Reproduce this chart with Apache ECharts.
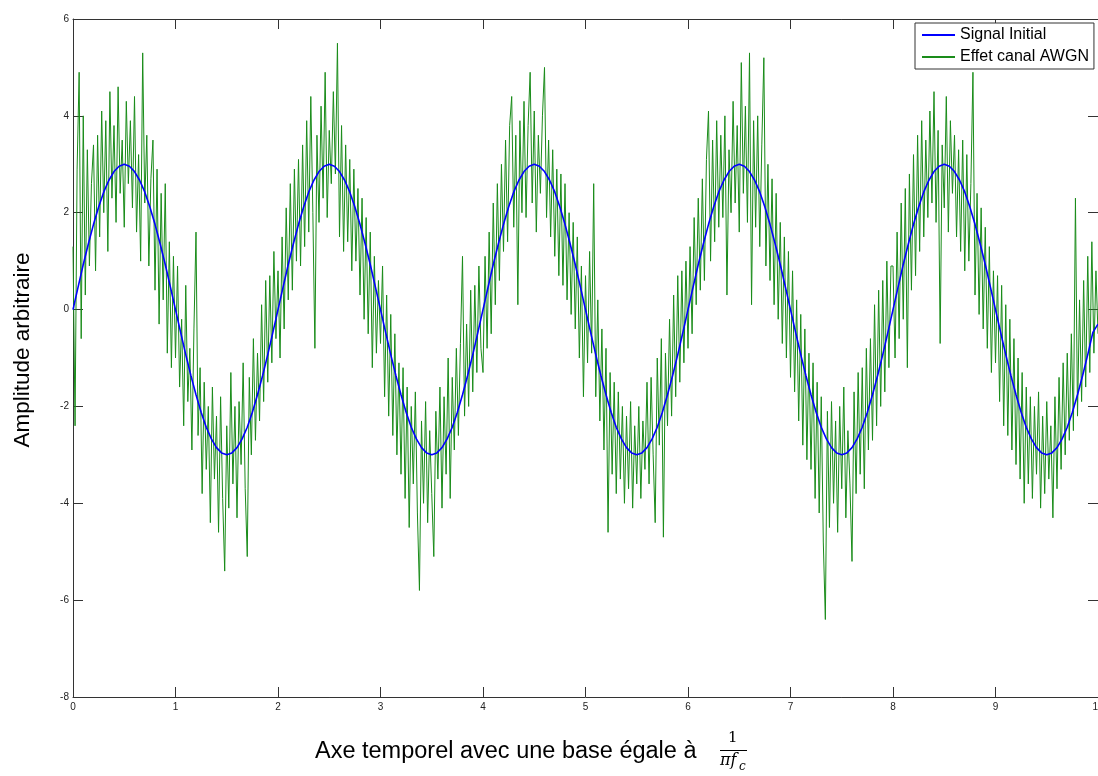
<!DOCTYPE html>
<html>
<head>
<meta charset="utf-8">
<script src="https://cdn.jsdelivr.net/npm/echarts@6/dist/echarts.min.js"></script>
<style>
html,body{margin:0;padding:0;background:#fff;overflow:hidden;}
#chart{width:1098px;height:776px;}
</style>
</head>
<body>
<div id="chart"></div>
<script>
// Sample spacing (time units) of each series
const signalStep = 0.05;
const noisyStep = 0.02;

// Signal Initial (blue), read at t = 0, 0.05, ... 10
const signalInitial = [
 0,0.47,0.93,1.36,1.76,2.12,2.43,2.67,2.85,2.96,3,2.96,2.85,2.67,2.43,2.12,1.76,1.36,0.93,0.47,
 0,-0.47,-0.93,-1.36,-1.76,-2.12,-2.43,-2.67,-2.85,-2.96,-3,-2.96,-2.85,-2.67,-2.43,-2.12,-1.76,-1.36,-0.93,-0.47,
 0,0.47,0.93,1.36,1.76,2.12,2.43,2.67,2.85,2.96,3,2.96,2.85,2.67,2.43,2.12,1.76,1.36,0.93,0.47,
 0,-0.47,-0.93,-1.36,-1.76,-2.12,-2.43,-2.67,-2.85,-2.96,-3,-2.96,-2.85,-2.67,-2.43,-2.12,-1.76,-1.36,-0.93,-0.47,
 0,0.47,0.93,1.36,1.76,2.12,2.43,2.67,2.85,2.96,3,2.96,2.85,2.67,2.43,2.12,1.76,1.36,0.93,0.47,
 0,-0.47,-0.93,-1.36,-1.76,-2.12,-2.43,-2.67,-2.85,-2.96,-3,-2.96,-2.85,-2.67,-2.43,-2.12,-1.76,-1.36,-0.93,-0.47,
 0,0.47,0.93,1.36,1.76,2.12,2.43,2.67,2.85,2.96,3,2.96,2.85,2.67,2.43,2.12,1.76,1.36,0.93,0.47,
 0,-0.47,-0.93,-1.36,-1.76,-2.12,-2.43,-2.67,-2.85,-2.96,-3,-2.96,-2.85,-2.67,-2.43,-2.12,-1.76,-1.36,-0.93,-0.47,
 0,0.47,0.93,1.36,1.76,2.12,2.43,2.67,2.85,2.96,3,2.96,2.85,2.67,2.43,2.12,1.76,1.36,0.93,0.47,
 0,-0.47,-0.93,-1.36,-1.76,-2.12,-2.43,-2.67,-2.85,-2.96,-3,-2.96,-2.85,-2.67,-2.43,-2.12,-1.76,-1.36,-0.93,-0.47,
 -0.3
];

// Effet canal AWGN (green), read at t = 0, 0.02, ... 10
const awgn = [
 1.3,-2.4,2.9,4.9,-0.6,4.0,0.3,3.3,0.9,2.6,3.4,0.8,3.6,1.5,4.1,2.0,3.9,1.2,4.5,2.3,3.8,1.8,4.6,2.4,3.5,1.7,4.3,2.6,3.9,2.1,4.4,1.6,3.2,1.0,5.3,2.2,3.6,0.9,2.7,3.5,0.4,2.9,-0.3,2.4,0.2,2.6,-0.9,1.4,-1.2,1.1,
 -1.0,0.9,-1.6,-0.2,-2.4,0.5,-1.9,-0.8,-2.9,-0.4,1.6,-2.6,-1.2,-3.8,-1.5,-3.3,-2.0,-4.4,-1.6,-3.5,-2.2,-4.6,-1.8,-3.9,-5.4,-2.4,-4.1,-1.3,-3.6,-2.0,-4.3,-1.9,-3.2,-1.1,-3.7,-5.1,-1.4,-3.0,-0.6,-2.7,-0.9,-2.3,0.1,-1.9,0.6,-1.5,0.7,-1.1,1.2,-0.6,
 0.8,-1.0,1.5,-0.4,2.1,0.2,2.6,0.4,2.9,1.0,3.1,0.9,3.4,1.3,3.9,1.6,4.4,2.0,-0.8,3.6,1.8,4.2,2.3,4.9,1.9,3.7,2.6,4.5,2.8,5.5,1.5,3.8,1.2,3.4,1.4,3.1,0.8,2.9,1.0,2.5,0.3,2.3,-0.2,1.9,-0.5,1.6,-1.2,1.1,-0.9,0.6,
 -0.7,0.9,-1.8,0.3,-2.2,-0.1,-2.6,-0.5,-3.0,-1.1,-3.4,-1.2,-3.9,-1.6,-4.5,-2.0,-3.6,-1.7,-4.2,-5.8,-2.3,-4.0,-1.9,-4.4,-2.5,-3.8,-5.1,-2.1,-3.5,-1.6,-4.1,-1.8,-3.4,-1.0,-3.9,-1.4,-2.9,-0.8,-2.6,-0.7,1.1,-2.2,-0.3,-2.0,0.4,-1.7,0.5,-1.3,0.9,-0.8,
 -1.3,1.1,-0.8,1.6,-0.5,2.2,0.1,2.6,0.6,3.0,1.2,3.5,1.4,3.8,4.4,1.7,3.6,0.1,3.9,2.0,4.3,1.9,3.8,4.9,2.2,4.1,1.6,3.6,2.4,4.0,5.0,1.9,3.5,1.5,3.3,1.1,2.9,0.7,2.8,0.5,2.6,0.2,2.0,-0.1,1.8,-0.4,1.5,-1.0,0.9,-1.8,
 0.7,-1.1,1.2,-0.9,2.6,-1.8,0.2,-2.3,-0.4,-2.9,-0.8,-4.6,-1.3,-3.4,-1.5,-3.8,-1.7,-3.5,-2.0,-4.0,-2.2,-3.7,-1.9,-4.1,-2.4,-3.6,-2.0,-3.9,-2.3,-3.3,-1.5,-3.6,-1.4,-3.0,-4.4,-1.0,-2.8,-0.6,-4.7,-0.9,-2.4,-0.2,-2.2,0.3,-1.8,0.7,-1.5,0.8,-1.1,1.0,
 -0.8,1.3,-0.5,1.9,0.1,2.3,0.4,2.7,0.6,3.1,4.1,1.0,3.5,1.4,3.9,1.7,3.6,1.9,4.0,0.3,3.3,2.0,4.3,2.2,3.8,1.6,5.1,2.4,4.2,1.8,5.3,0.1,3.9,1.7,4.0,1.3,3.4,5.2,0.9,3.0,0.6,2.7,0.1,2.4,-0.2,1.8,-0.7,1.5,-1.0,1.2,
 -1.4,0.8,-1.7,0.2,-2.3,-0.1,-2.8,-0.4,-3.1,-0.9,-3.3,-1.1,-3.9,-1.5,-4.2,-1.8,-4.8,-6.4,-2.1,-4.5,-1.9,-4.0,-2.3,-4.6,-2.0,-3.7,-1.6,-4.3,-2.5,-3.6,-5.2,-1.7,-3.8,-1.3,-3.4,-1.2,-3.7,-0.8,-2.9,-0.6,-2.7,0.1,-2.4,0.4,-2.0,0.6,-1.7,1.0,-1.2,0.9,
 0.9,-1.0,1.6,-0.6,2.2,-0.2,2.5,-1.2,2.8,0.4,3.2,0.7,3.6,1.2,3.9,1.5,3.5,1.9,4.1,2.2,4.5,1.8,3.7,-0.7,3.4,2.1,4.4,1.6,3.9,2.4,3.6,1.5,3.3,1.2,3.5,0.8,3.2,1.0,2.6,4.9,0.3,2.4,-0.1,2.1,-0.4,1.7,-0.8,1.3,-1.3,0.8,
 -1.1,0.7,-1.9,0.5,-2.4,0.1,-2.6,-0.2,-2.9,-0.6,-3.2,-1.0,-3.5,-1.3,-4.0,-1.6,-3.6,-1.8,-3.9,-2.0,-3.4,-1.7,-4.1,-2.2,-3.8,-1.9,-3.5,-2.4,-4.3,-1.8,-3.7,-1.4,-3.3,-1.1,-3.0,-0.9,-2.7,-0.5,-2.5,2.3,-2.2,0.2,-1.9,0.6,-1.6,1.1,-1.3,1.4,-0.9,0.8,
 -0.5
];

// Axis ticks
const xMin = 0, xMax = 10, xInterval = 1;
const yMin = -8, yMax = 6, yInterval = 2;

const seriesNames = ['Signal Initial', 'Effet canal AWGN'];
const xTitle = 'Axe temporel avec une base égale à';
const yTitle = 'Amplitude arbitraire';

const signalData = signalInitial.map((v, i) => [+(i * signalStep).toFixed(4), v]);
const awgnData = awgn.map((v, i) => [+(i * noisyStep).toFixed(4), v]);

const axisColor = '#333';
const tickLabelStyle = { color: '#222', fontSize: 10, fontFamily: 'Liberation Sans, Arial, sans-serif' };

const chart = echarts.init(document.getElementById('chart'), null, { renderer: 'canvas' });
chart.setOption({
  animation: false,
  backgroundColor: '#fff',
  grid: { left: 73, right: 0, top: 19, bottom: 79, containLabel: false, outerBoundsMode: 'none' },
  legend: {
    orient: 'vertical',
    left: 915, top: 23,
    padding: [4, 5, 4, 6],
    itemGap: 6,
    itemWidth: 33, itemHeight: 16,
    backgroundColor: '#fff',
    borderColor: '#333', borderWidth: 1, borderRadius: 0,
    itemStyle: { opacity: 0 },
    textStyle: { fontSize: 16, color: '#000', fontFamily: 'Liberation Sans, Arial, sans-serif' },
    data: seriesNames
  },
  xAxis: [
    {
      type: 'value', min: xMin, max: xMax, interval: xInterval, position: 'bottom',
      axisLine: { show: true, onZero: false, lineStyle: { color: axisColor, width: 1 } },
      axisTick: { show: true, inside: true, length: 10, lineStyle: { color: axisColor } },
      axisLabel: Object.assign({ margin: 5, showMaxLabel: true, showMinLabel: true }, tickLabelStyle),
      splitLine: { show: false }
    },
    {
      type: 'value', min: xMin, max: xMax, interval: xInterval, position: 'top',
      axisLine: { show: true, onZero: false, lineStyle: { color: axisColor, width: 1 } },
      axisTick: { show: true, inside: true, length: 10, lineStyle: { color: axisColor } },
      axisLabel: { show: false },
      splitLine: { show: false }
    }
  ],
  yAxis: [
    {
      type: 'value', min: yMin, max: yMax, interval: yInterval, position: 'left',
      axisLine: { show: true, onZero: false, lineStyle: { color: axisColor, width: 1 } },
      axisTick: { show: true, inside: true, length: 10, lineStyle: { color: axisColor } },
      axisLabel: Object.assign({ margin: 4 }, tickLabelStyle),
      splitLine: { show: false }
    },
    {
      type: 'value', min: yMin, max: yMax, interval: yInterval, position: 'right',
      axisLine: { show: true, onZero: false, lineStyle: { color: axisColor, width: 1 } },
      axisTick: { show: true, inside: true, length: 10, lineStyle: { color: axisColor } },
      axisLabel: { show: false },
      splitLine: { show: false }
    }
  ],
  series: [
    {
      name: seriesNames[1], type: 'line', data: awgnData, xAxisIndex: 0, yAxisIndex: 0,
      symbol: 'none', showSymbol: false, sampling: null, z: 2,
      lineStyle: { color: '#1a8c1a', width: 1 }, itemStyle: { color: '#1a8c1a' }
    },
    {
      name: seriesNames[0], type: 'line', data: signalData, xAxisIndex: 0, yAxisIndex: 0,
      symbol: 'none', showSymbol: false, z: 3,
      lineStyle: { color: '#0000ff', width: 1.6 }, itemStyle: { color: '#0000ff' }
    }
  ],
  graphic: [
    {
      type: 'text', x: 23, y: 350, rotation: Math.PI / 2,
      style: { text: yTitle, font: '22.5px "Liberation Sans", Arial, sans-serif', fill: '#000', align: 'center', verticalAlign: 'middle' }
    },
    {
      type: 'text', left: 315, top: 740,
      style: { text: xTitle, font: '23.5px "Liberation Sans", Arial, sans-serif', fill: '#000' }
    },
    {
      type: 'text', left: 728, top: 731,
      style: { text: '1', font: '15px "DejaVu Serif", serif', fill: '#000' }
    },
    {
      type: 'line', shape: { x1: 720, y1: 750.5, x2: 747, y2: 750.5 },
      style: { stroke: '#000', lineWidth: 1 }
    },
    {
      type: 'text', left: 720, top: 753,
      style: { text: 'πf', font: 'italic 16px "DejaVu Serif", serif', fill: '#000' }
    },
    {
      type: 'text', left: 739, top: 761,
      style: { text: 'c', font: 'italic 12px "DejaVu Serif", serif', fill: '#000' }
    }
  ]
});
</script>
</body>
</html>
